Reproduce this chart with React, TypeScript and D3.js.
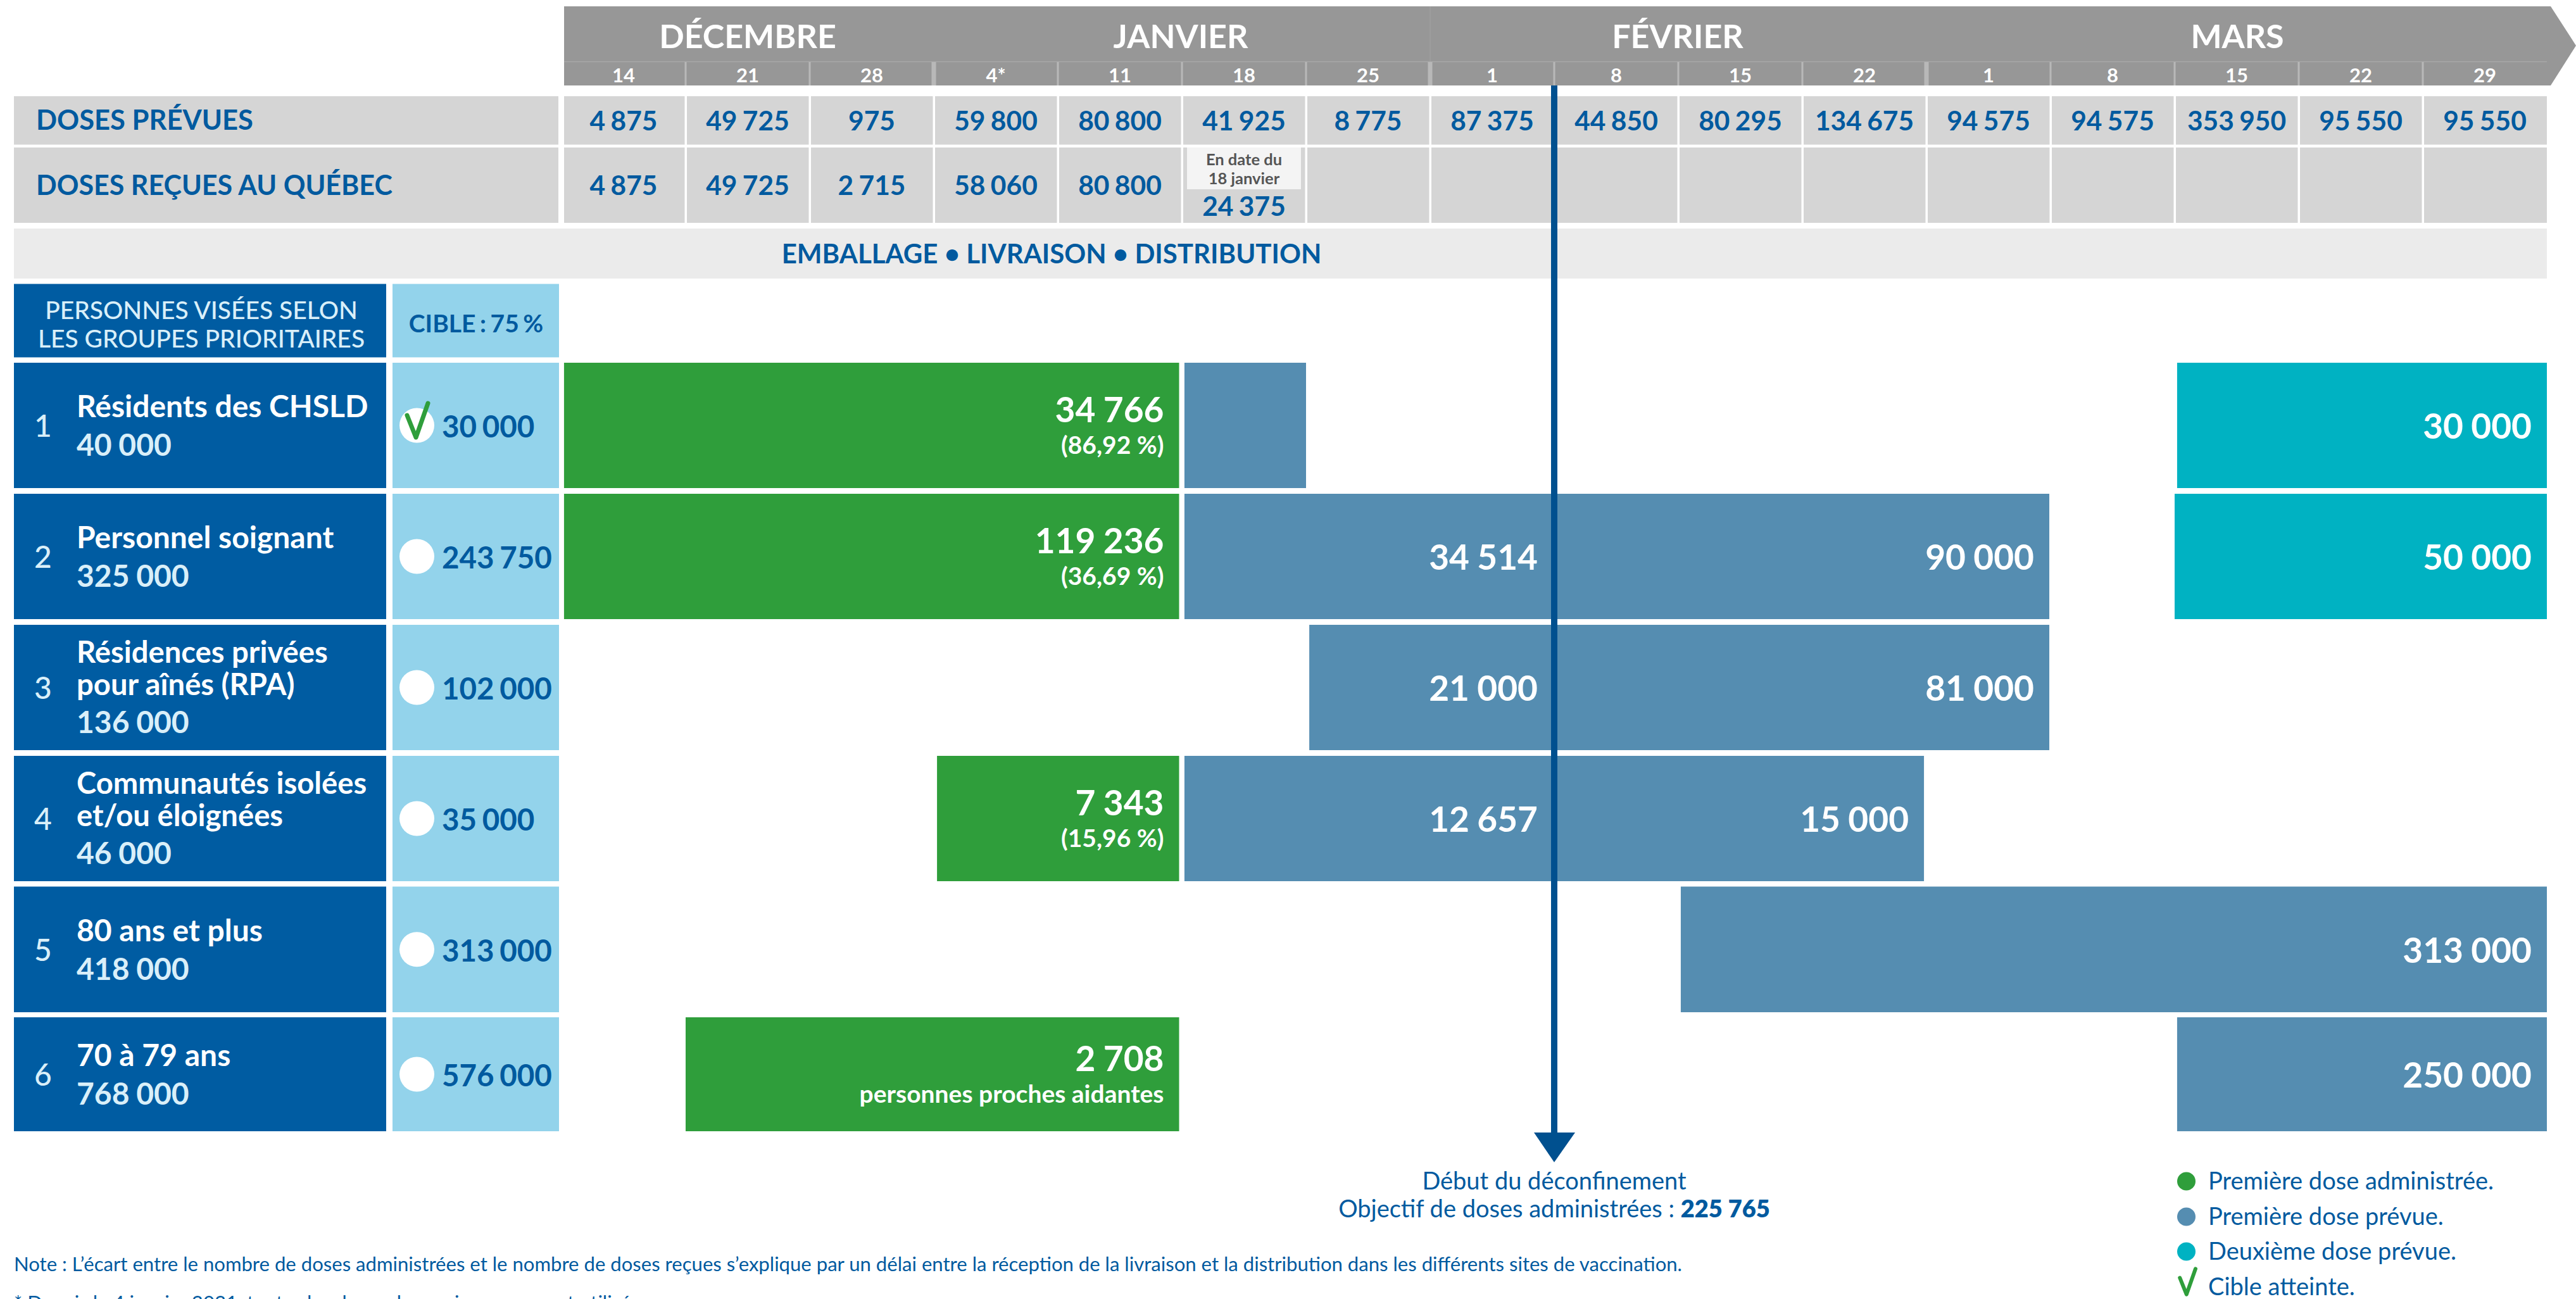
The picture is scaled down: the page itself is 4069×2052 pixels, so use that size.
import React from "react";
import * as d3 from "d3";

const weeks = ["14","21","28","4*","11","18","25","1","8","15","22","1","8","15","22","29"];
const planned = ["4 875","49 725","975","59 800","80 800","41 925","8 775","87 375","44 850","80 295","134 675","94 575","94 575","353 950","95 550","95 550"];
const received = ["4 875","49 725","2 715","58 060","80 800","24 375","","","","","","","","","",""];
const months = [["DÉCEMBRE",1181],["JANVIER",1865],["FÉVRIER",2650],["MARS",3534]] as const;
const groupNames = [["Résidents des CHSLD"],["Personnel soignant"],["Résidences privées","pour aînés (RPA)"],["Communautés isolées","et/ou éloignées"],["80 ans et plus"],["70 à 79 ans"]];
const groupTotals = ["40 000","325 000","136 000","46 000","418 000","768 000"];
const groupTargets = ["30 000","243 750","102 000","35 000","313 000","576 000"];
const bars = [
  {row:0,kind:"adm",from:0.02,to:4.977,label:"34 766",sub:"(86,92 %)"},
  {row:0,kind:"first",from:5.02,to:6,label:"",sub:""},
  {row:0,kind:"second",from:13.02,to:16,label:"30 000",sub:""},
  {row:1,kind:"adm",from:0.02,to:4.977,label:"119 236",sub:"(36,69 %)"},
  {row:1,kind:"first",from:5.02,to:11.99,label:"90 000",sub:"",mid:"34 514"},
  {row:1,kind:"second",from:13,to:16,label:"50 000",sub:""},
  {row:2,kind:"first",from:6.026,to:11.99,label:"81 000",sub:"",mid:"21 000"},
  {row:3,kind:"adm",from:3.026,to:4.977,label:"7 343",sub:"(15,96 %)"},
  {row:3,kind:"first",from:5.02,to:10.98,label:"15 000",sub:"",mid:"12 657"},
  {row:4,kind:"first",from:9.02,to:16,label:"313 000",sub:""},
  {row:5,kind:"adm",from:1,to:4.977,label:"2 708",sub:"personnes proches aidantes"},
  {row:5,kind:"first",from:13.02,to:16,label:"250 000",sub:""},
];
const legendItems = ["Première dose administrée.","Première dose prévue.","Deuxième dose prévue."];

const W = 4069, H = 2052;
const FONT = "Lato, 'Noto Sans', sans-serif";
const BLUE = "#005ca2", TXT = "#005a9f", LIGHT = "#93d3eb", GREY = "#979797", CELL = "#d5d5d5";
const color: Record<string,string> = {adm:"#2f9e3b",first:"#558db1",second:"#00b2c2"};
const legendColors = [color.adm,color.first,color.second];

const x = d3.scaleLinear().domain([0,16]).range([887,4023]);
const rowTops = [573,780,987,1194,1400.5,1607];
const rowBottoms = [771,978,1185,1392,1599,1787];
const checkPath = d3.line()([[-17,-14],[-3,21],[16,-33]]) as string;

export default function App() {
  return (
    <svg width={W} height={H} viewBox={`0 0 ${W} ${H}`} fontFamily={FONT}
      style={{position:"absolute",left:0,top:0,display:"block",background:"#fff"}}>
      {/* header */}
      <path d={`M891 10H4029L4069 72L4029 135H891Z`} fill={GREY}/>
      <line x1={891} x2={4023} y1={97.5} y2={97.5} stroke="#a9a9a9" strokeWidth={1.5}/>
      <line x1={x(7)} x2={x(7)} y1={10} y2={97} stroke="#a3a3a3" strokeWidth={1}/>
      {months.map(([m,cx])=>(
        <text key={m} x={cx} y={76} textAnchor="middle" fontSize={52} fontWeight={700} fill="#fff">{m}</text>
      ))}
      {weeks.map((w,i)=>{
        const thick = i===3||i===7||i===11;
        return <g key={i}>
          {i>0 && <line x1={x(i)} x2={x(i)} y1={98} y2={135} stroke="#b8b8b8" strokeWidth={thick?7:3}/>}
          <text x={x(i+0.5)} y={130} textAnchor="middle" fontSize={31} fontWeight={700} fill="#fff">{w}</text>
        </g>;
      })}
      {/* dose rows */}
      <rect x={22} y={152} width={860} height={76.5} fill={CELL}/>
      <rect x={22} y={233} width={860} height={119} fill={CELL}/>
      <text x={57} y={205} fontSize={43.5} fontWeight={700} fill={TXT}>DOSES PRÉVUES</text>
      <text x={57} y={308} fontSize={43} fontWeight={700} fill={TXT}>DOSES REÇUES AU QUÉBEC</text>
      {weeks.map((_,i)=>{
        const l = i===0 ? 891 : x(i)+2;
        const r = x(i+1)-(i===15?0:1.5);
        return <g key={i}>
          <rect x={l} y={152} width={r-l} height={76.5} fill={CELL}/>
          <rect x={l} y={233} width={r-l} height={119} fill={CELL}/>
          <text x={x(i+0.5)} y={206} textAnchor="middle" fontSize={42.5} wordSpacing={-2} fontWeight={700} fill={TXT}>{planned[i]}</text>
          {i<5 && <text x={x(i+0.5)} y={308} textAnchor="middle" fontSize={42.5} wordSpacing={-2} fontWeight={700} fill={TXT}>{received[i]}</text>}
          {i===5 && <>
            <rect x={x(5)+8} y={233} width={180} height={66} fill="#f4f4f4"/>
            <text x={x(5.5)} y={261} textAnchor="middle" fontSize={25.5} fontWeight={700} fill="#555">En date du</text>
            <text x={x(5.5)} y={291} textAnchor="middle" fontSize={25.5} fontWeight={700} fill="#555">18 janvier</text>
            <text x={x(5.5)} y={341} textAnchor="middle" fontSize={42.5} wordSpacing={-2} fontWeight={700} fill={TXT}>{received[i]}</text>
          </>}
        </g>;
      })}
      <rect x={22} y={361} width={4001} height={79} fill="#ebebeb"/>
      <text x={1661} y={416} textAnchor="middle" fontSize={42} fontWeight={700} fill={TXT}>EMBALLAGE • LIVRAISON • DISTRIBUTION</text>
      {/* group header */}
      <rect x={22} y={448.5} width={588} height={116} fill={BLUE}/>
      <rect x={620} y={448.5} width={263} height={116} fill={LIGHT}/>
      <text x={318} y={504} textAnchor="middle" fontSize={39} fontWeight={500} fill="#d9eff9">PERSONNES VISÉES SELON</text>
      <text x={318} y={549} textAnchor="middle" fontSize={39} fontWeight={500} fill="#d9eff9">LES GROUPES PRIORITAIRES</text>
      <text x={752} y={525} textAnchor="middle" fontSize={39} wordSpacing={-3} fontWeight={700} fill={TXT}>CIBLE : 75 %</text>
      {/* groups */}
      {groupNames.map((names,r)=>{
        const t=rowTops[r], b=rowBottoms[r], c=(t+b)/2;
        const lines = names.length>1 ? [c-39,c+12,c+72] : [c-13, c+48];
        return <g key={r}>
          <rect x={22} y={t} width={588} height={b-t} fill={BLUE}/>
          <rect x={620} y={t} width={263} height={b-t} fill={LIGHT}/>
          <text x={68} y={c+18} textAnchor="middle" fontSize={48} fontWeight={500} fill="#d9eff9">{r+1}</text>
          {names.map((n,j)=>(<text key={j} x={121} y={lines[j]} fontSize={names.length>1?47.2:48} fontWeight={700} fill="#fff">{n}</text>))}
          <text x={121} y={lines[names.length]} fontSize={48} wordSpacing={-1} fontWeight={700} fill="#d9eff9">{groupTotals[r]}</text>
          <circle cx={658.5} cy={c} r={27.5} fill="#fff"/>
          {r===0 && <path d={checkPath} transform={`translate(660,${c-2})`} fill="none" stroke={color.adm} strokeWidth={7} strokeLinecap="round" strokeLinejoin="round"/>}
          <text x={698} y={c+19} fontSize={47.5} wordSpacing={-3} fontWeight={700} fill={TXT}>{groupTargets[r]}</text>
        </g>;
      })}
      {/* bars */}
      {bars.map((d,i)=>{
        const t=rowTops[d.row], b=rowBottoms[d.row], c=(t+b)/2;
        const x0=x(d.from), x1=x(d.to);
        return <g key={i}>
          <rect x={x0} y={t} width={x1-x0} height={b-t} fill={color[d.kind]}/>
          {d.label && <text x={x1-24} y={d.sub ? c-5 : c+21} textAnchor="end" fontSize={55} wordSpacing={-1} fontWeight={700} fill="#fff">{d.label}</text>}
          {d.sub && <text x={x1-24} y={c+45} textAnchor="end" fontSize={39} fontWeight={700} fill="#fff">{d.sub}</text>}
          {(d as any).mid && <text x={2429} y={c+21} textAnchor="end" fontSize={55} wordSpacing={-1} fontWeight={700} fill="#fff">{(d as any).mid}</text>}
        </g>;
      })}
      {/* line & arrow */}
      <line x1={2455} x2={2455} y1={135} y2={1790} stroke="#00508f" strokeWidth={10}/>
      <path d="M2423 1789H2488L2455 1836Z" fill="#00508f"/>
      <text x={2455} y={1879} textAnchor="middle" fontSize={38} fill={TXT}>Début du déconfinement</text>
      <text x={2455} y={1923} textAnchor="middle" fontSize={38} fill={TXT}>Objectif de doses administrées : <tspan fontWeight={800}>225 765</tspan></text>
      {/* notes */}
      <text x={22} y={2008} fontSize={31.1} fill={TXT}>Note : L’écart entre le nombre de doses administrées et le nombre de doses reçues s’explique par un délai entre la réception de la livraison et la distribution dans les différents sites de vaccination.</text>
      <text x={22} y={2069} fontSize={31.1} fill={TXT}>* Depuis le 4 janvier 2021, toutes les doses de vaccin reçues sont utilisées.</text>
      {/* legend */}
      {legendItems.map((l,i)=>{
        const y=[1866,1922,1977][i];
        return <g key={l}>
          <circle cx={3453.5} cy={y} r={14.5} fill={legendColors[i]}/>
          <text x={3488} y={y+13} fontSize={38} fill={TXT}>{l}</text>
        </g>;
      })}
      <path d={checkPath} transform="translate(3456,2029) scale(.75)" fill="none" stroke={color.adm} strokeWidth={8} strokeLinecap="round" strokeLinejoin="round"/>
      <text x={3488} y={2046} fontSize={38} fill={TXT}>Cible atteinte.</text>
    </svg>
  );
}
